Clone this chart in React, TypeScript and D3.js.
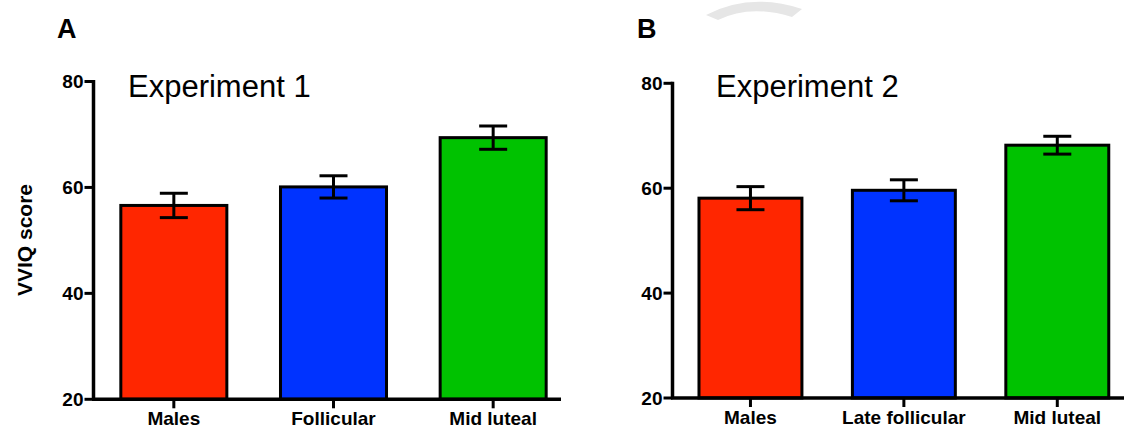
import React from "react";
import * as d3 from "d3";

const categoriesA = ["Males", "Follicular", "Mid luteal"];
const meansA = [56.6, 60.1, 69.4];
const semA = [2.3, 2.1, 2.2];

const categoriesB = ["Males", "Late follicular", "Mid luteal"];
const meansB = [58.1, 59.6, 68.2];
const semB = [2.2, 2.0, 1.7];

const yTicks = [20, 40, 60, 80];
const barColors = ["#ff2600", "#0033ff", "#00c200"];

const FONT = "'Liberation Sans', Arial, sans-serif";

type PanelProps = {
  letter: string;
  letterX: number;
  title: string;
  titleX: number;
  categories: string[];
  means: number[];
  sem: number[];
  axisX: number;
  xEnd: number;
  yTop: number;
  yBottom: number;
  bandRange: [number, number];
  padInner: number;
};

function Panel(p: PanelProps) {
  const y = d3.scaleLinear().domain([20, 80]).range([p.yBottom, p.yTop]);
  const x = d3
    .scaleBand<string>()
    .domain(p.categories)
    .range(p.bandRange)
    .paddingInner(p.padInner)
    .paddingOuter(p.padInner / 2);
  const bw = x.bandwidth();
  const cap = 28;
  return (
    <g>
      <text x={p.letterX} y={38} fontFamily={FONT} fontWeight="bold" fontSize={27} fill="#000">
        {p.letter}
      </text>
      <text x={p.titleX} y={97} fontFamily={FONT} fontSize={31} fill="#000">
        {p.title}
      </text>
      {p.categories.map((c, i) => {
        const x0 = x(c)!;
        const cx = x0 + bw / 2;
        return (
          <g key={c}>
            <rect
              x={x0}
              y={y(p.means[i])}
              width={bw}
              height={y(20) - y(p.means[i])}
              fill={barColors[i]}
              stroke="#000"
              strokeWidth={3}
            />
            <line x1={cx} x2={cx} y1={y(p.means[i] + p.sem[i])} y2={y(p.means[i] - p.sem[i])} stroke="#000" strokeWidth={3} />
            <line x1={cx - cap / 2} x2={cx + cap / 2} y1={y(p.means[i] + p.sem[i])} y2={y(p.means[i] + p.sem[i])} stroke="#000" strokeWidth={3} />
            <line x1={cx - cap / 2} x2={cx + cap / 2} y1={y(p.means[i] - p.sem[i])} y2={y(p.means[i] - p.sem[i])} stroke="#000" strokeWidth={3} />
            <line x1={cx} x2={cx} y1={y(20)} y2={y(20) + 9} stroke="#000" strokeWidth={3} />
            <text x={cx} y={y(20) + 26} textAnchor="middle" fontFamily={FONT} fontWeight="bold" fontSize={19} fill="#000">
              {c}
            </text>
          </g>
        );
      })}
      <line x1={p.axisX} x2={p.axisX} y1={y(80) - 1.5} y2={y(20)} stroke="#000" strokeWidth={3.5} />
      <line x1={p.axisX - 1.5} x2={p.xEnd} y1={y(20)} y2={y(20)} stroke="#000" strokeWidth={3.5} />
      {yTicks.map((t) => (
        <g key={t}>
          <line x1={p.axisX - 9} x2={p.axisX} y1={y(t)} y2={y(t)} stroke="#000" strokeWidth={3} />
          <text x={p.axisX - 10} y={y(t)} dy="0.36em" textAnchor="end" fontFamily={FONT} fontWeight="bold" fontSize={19} fill="#000">
            {t}
          </text>
        </g>
      ))}
    </g>
  );
}

export default function App() {
  return (
    <svg
      width={1124}
      height={429}
      viewBox="0 0 1124 429"
      style={{ position: "absolute", left: 0, top: 0, background: "#fff" }}
    >
      <rect x={0} y={0} width={1124} height={429} fill="#fff" />
      <path d="M706,15 Q750,-8 802,9 L792,17 Q750,4 718,20 Z" fill="#e6e6e6" />
      <text
        transform="translate(32,240) rotate(-90)"
        textAnchor="middle"
        fontFamily={FONT}
        fontWeight="bold"
        fontSize={21}
        fill="#000"
      >
        VVIQ score
      </text>
      <Panel
        letter="A"
        letterX={57}
        title="Experiment 1"
        titleX={128}
        categories={categoriesA}
        means={meansA}
        sem={semA}
        axisX={93.5}
        xEnd={561}
        yTop={81.5}
        yBottom={399.3}
        bandRange={[94, 573]}
        padInner={0.336}
      />
      <Panel
        letter="B"
        letterX={637}
        title="Experiment 2"
        titleX={716}
        categories={categoriesB}
        means={meansB}
        sem={semB}
        axisX={672.5}
        xEnd={1124}
        yTop={83.3}
        yBottom={398}
        bandRange={[673.75, 1134]}
        padInner={0.329}
      />
    </svg>
  );
}
